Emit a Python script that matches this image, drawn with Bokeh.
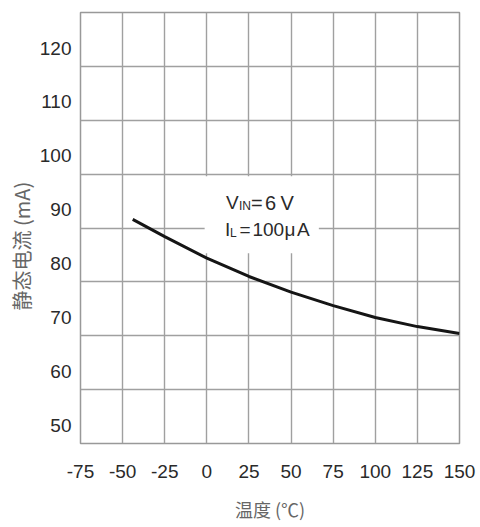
import math
from bokeh.plotting import figure
from bokeh.models import FixedTicker, Range1d, Title, ColumnDataSource
from bokeh.core.properties import value
from bokeh.embed import file_html
from bokeh.resources import INLINE

# ---- data ----
temp_c = [-44, -25, 0, 25, 50, 75, 100, 125, 150]
iq_ma = [88.2, 85.0, 81.0, 77.6, 74.7, 72.2, 70.0, 68.3, 67.0]

x_ticks = [-75, -50, -25, 0, 25, 50, 75, 100, 125, 150]
x_tick_labels = ["-75", "-50", "-25", "0", "25", "50", "75", "100", "125", "150"]
y_ticks = [50, 60, 70, 80, 90, 100, 110, 120]
y_tick_labels = ["50", "60", "70", "80", "90", "100", "110", "120"]
y_grid = [56.6, 66.6, 76.6, 86.6, 96.6, 106.6, 116.6]
x_grid = [-50, -25, 0, 25, 50, 75, 100, 125]

x_title = "温度 (℃)"
y_title = "静态电流 (mA)"

# annotation pieces
ann_text = ["V", "IN", "=", "6", "V", "I", "L", "=", "100", "μ", "A"]

AXIS_GREY = "#a0a0a0"
TXT = "#2a2a2a"

p = figure(width=480, height=527, output_backend="svg", toolbar_location=None,
           x_range=Range1d(-75, 150), y_range=Range1d(46.6, 126.6),
           min_border_left=80, min_border_right=21, min_border_top=12,
           min_border_bottom=84)
p.background_fill_color = "white"
p.border_fill_color = "white"
p.outline_line_color = "#999999"
p.outline_line_width = 1.5

# grids
p.xgrid.ticker = FixedTicker(ticks=x_grid)
p.ygrid.ticker = FixedTicker(ticks=y_grid)
for g in (p.xgrid, p.ygrid):
    g.grid_line_color = AXIS_GREY
    g.grid_line_width = 1.4

# axes
p.xaxis.ticker = FixedTicker(ticks=x_ticks)
p.yaxis.ticker = FixedTicker(ticks=y_ticks)
p.xaxis.major_label_overrides = dict(zip(x_ticks, x_tick_labels))
p.yaxis.major_label_overrides = dict(zip(y_ticks, y_tick_labels))
for ax in (p.xaxis, p.yaxis):
    ax.axis_line_color = None
    ax.major_tick_line_color = None
    ax.minor_tick_line_color = None
    ax.major_tick_out = 0
    ax.major_tick_in = 0
    ax.major_label_text_font = "Liberation Sans"
    ax.major_label_text_font_size = "19px"
    ax.major_label_text_color = TXT
p.yaxis.major_label_standoff = 9
p.xaxis.major_label_standoff = 21

p.xaxis.axis_label = x_title
p.xaxis.axis_label_text_font = "Noto Sans CJK SC"
p.xaxis.axis_label_text_font_size = "18px"
p.xaxis.axis_label_text_font_style = "normal"
p.xaxis.axis_label_text_color = "#666666"
p.xaxis.axis_label_standoff = 15

# y title as a left-side title (positioned from the bottom of the frame)
yt = Title(text=y_title, align="left", offset=133, vertical_align="middle",
           text_font="Noto Sans CJK SC", text_font_size="20px",
           text_font_style="normal", text_color="#666666", standoff=0)
p.add_layout(yt, "left")

# white box behind the condition text
p.quad(left=[-1.3], right=[66.5], bottom=[81.9], top=[96.2],
       fill_color="white", line_color=None)

# curve
p.line(temp_c, iq_ma, line_color="#151515", line_width=3)

# condition text
ax_anchor = 25
ay_anchor = 90.2
src = ColumnDataSource(dict(
    x=[ax_anchor] * len(ann_text),
    y=[ay_anchor] * len(ann_text),
    text=ann_text,
    xo=[-23, -10, 2, 16, 31.5, -24, -19, -9.5, 3.5, 35.5, 48],
    yo=[-6, -3, -6, -6, -6, 21, 24, 21, 21, 21, 21],
    fs=["19px", "12px", "20px", "20px", "20px", "19px", "12px", "19px", "19px", "19px", "19px"],
))
p.text(x="x", y="y", text="text", x_offset="xo", y_offset="yo",
       text_font_size="fs", source=src, text_font=value("Liberation Sans"),
       text_color=TXT, text_align="left", text_baseline="alphabetic")

open("out.html", "w").write(file_html(p, INLINE))
